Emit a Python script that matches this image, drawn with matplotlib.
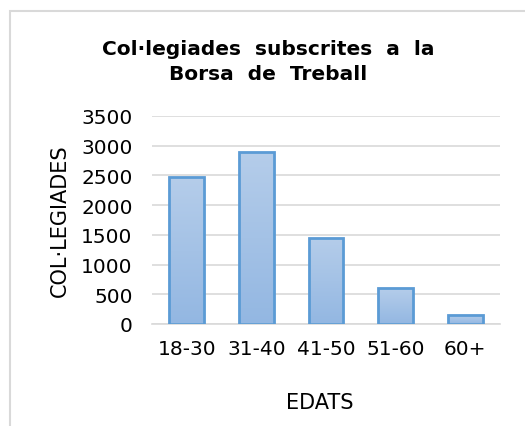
import matplotlib
matplotlib.use("Agg")
import matplotlib.pyplot as plt
import numpy as np
from matplotlib.patches import Rectangle
from matplotlib.colors import LinearSegmentedColormap

categories = ["18-30", "31-40", "41-50", "51-60", "60+"]
values = [2470, 2900, 1450, 605, 150]
yticks = [0, 500, 1000, 1500, 2000, 2500, 3000, 3500]

title = "Col·legiades  subscrites  a  la\nBorsa  de  Treball"
xlabel = "EDATS"
ylabel = "COL·LEGIADES"

plt.rcParams['font.family'] = ['DejaVu Sans']

W, H = 525, 427
fig = plt.figure(figsize=(W / 100, H / 100), dpi=100)

# outer chart frame (partially cropped)
fig.patches.append(Rectangle((10 / W, -0.1), 1.2, (H - 12) / H + 0.1,
                             transform=fig.transFigure, fill=False,
                             edgecolor="#d9d9d9", linewidth=1.5))

ax = fig.add_axes([152 / W, (H - 325) / H, (500 - 152) / W, (325 - 117) / H])

cmap = LinearSegmentedColormap.from_list("g", ["#93b7e2", "#b5cdea"])
grad = np.linspace(0, 1, 256).reshape(-1, 1)
bars = ax.bar(range(len(categories)), values, width=0.5, color="none",
              edgecolor="#5b9bd5", linewidth=2.0, zorder=3)
for b in bars:
    x0, y0 = b.get_x(), b.get_y()
    w, h = b.get_width(), b.get_height()
    im = ax.imshow(grad, cmap=cmap, origin="lower", aspect="auto",
                   extent=(x0, x0 + w, y0, y0 + h), zorder=2)
    im.set_clip_path(b)
ax.set_xlim(-0.5, len(categories) - 0.5)
ax.set_ylim(0, 3500)

ax.set_yticks(yticks)
ax.set_yticklabels([str(v) for v in yticks])
ax.set_xticks(range(len(categories)))
ax.set_xticklabels(categories)
ax.grid(axis="y", color="#d9d9d9", linewidth=1.2, zorder=0)
ax.set_axisbelow(True)
for s in ["top", "right", "left"]:
    ax.spines[s].set_visible(False)
ax.spines["bottom"].set_color("#d9d9d9")
ax.spines["bottom"].set_linewidth(1.2)
ax.tick_params(axis="both", length=0, labelsize=14.5, colors="#000000")
ax.tick_params(axis="y", pad=14)
ax.tick_params(axis="x", pad=11)

fig.text(268 / W, 1 - 62 / H, title, ha="center", va="center",
         fontsize=14.5, fontweight="bold", linespacing=1.35)
fig.text(320 / W, 1 - 403 / H, xlabel, ha="center", va="center", fontsize=15)
fig.text(60 / W, 1 - 221 / H, ylabel, ha="center", va="center",
         fontsize=15, rotation=90)

fig.savefig("out.png", dpi=100, facecolor="white")
